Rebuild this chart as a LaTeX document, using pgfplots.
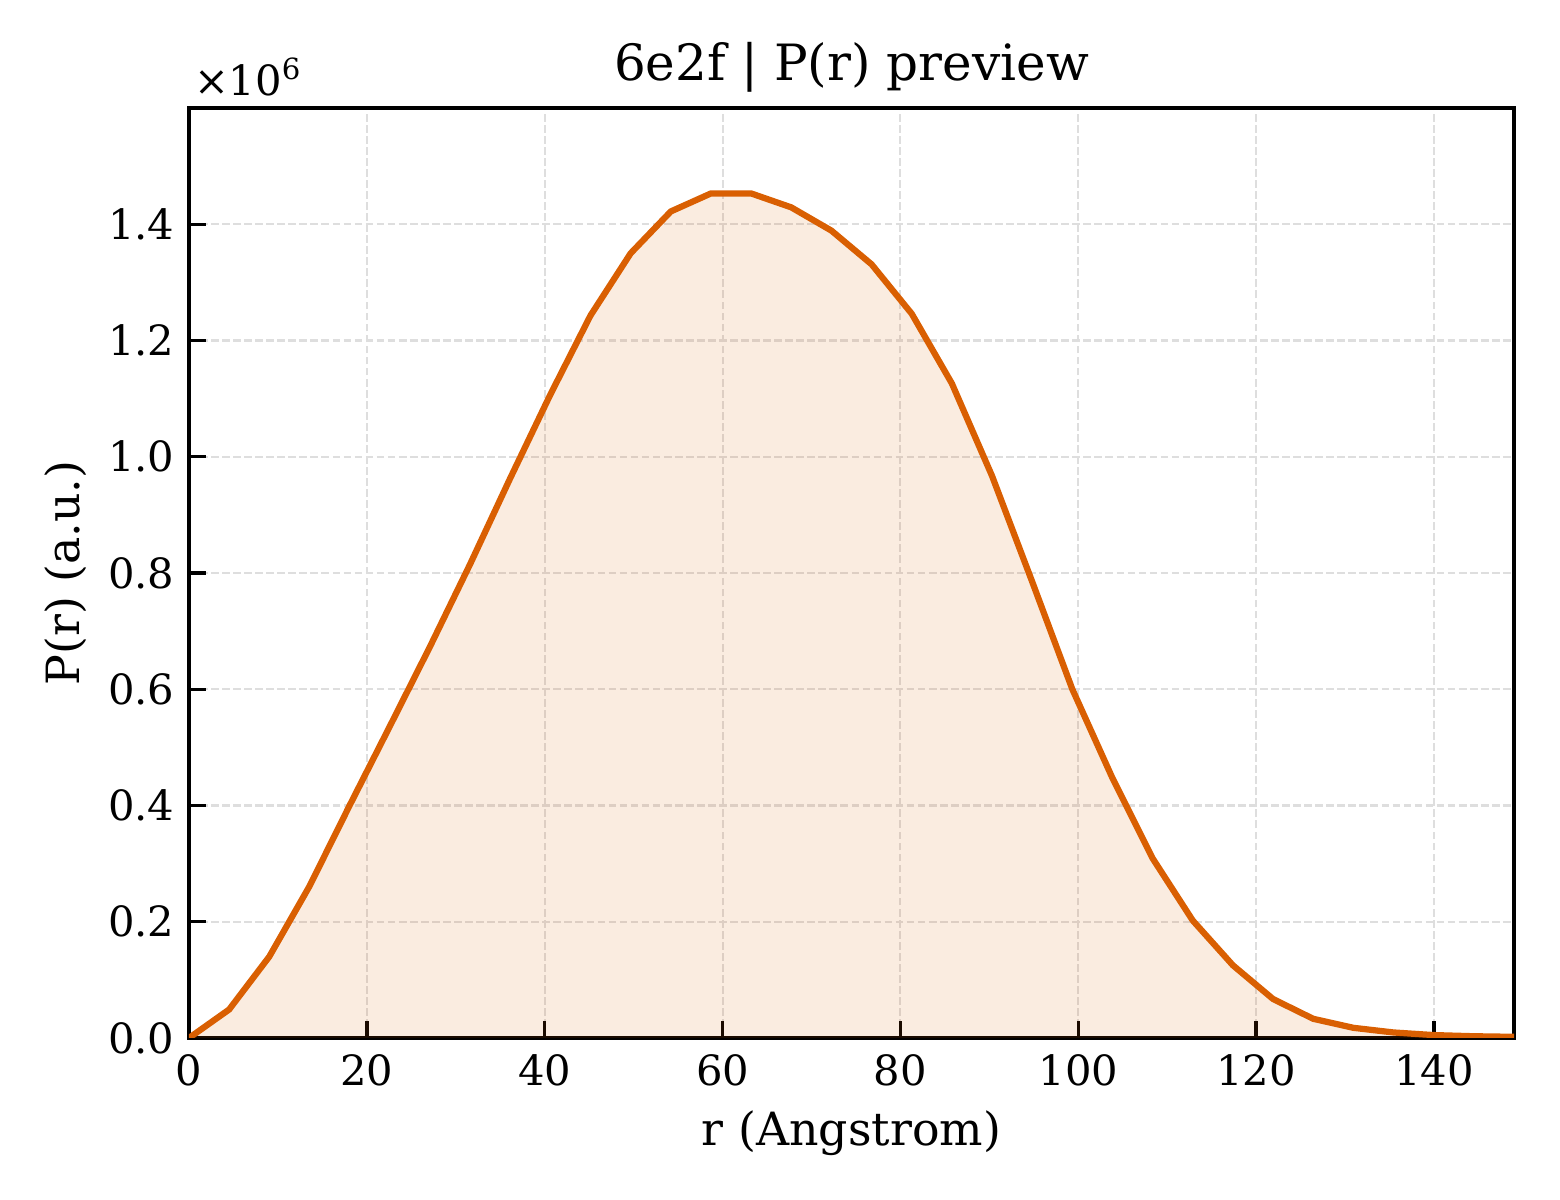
\documentclass[border=0pt]{standalone}
\usepackage{pgfplots}
\pgfplotsset{compat=1.18}
\usepackage{pgfplotstable}
\usepackage{fontspec}
\setmainfont{DejaVu Serif}
\definecolor{lineor}{HTML}{D95F02}

\pgfplotstableread{
r P
0.000 0.000
4.515 0.049
9.030 0.140
13.545 0.261
18.061 0.400
22.576 0.536
27.091 0.673
31.606 0.815
36.121 0.963
40.636 1.107
45.152 1.243
49.667 1.350
54.182 1.422
58.697 1.453
63.212 1.453
67.727 1.429
72.242 1.389
76.758 1.331
81.273 1.246
85.788 1.126
90.303 0.967
94.818 0.785
99.333 0.600
103.848 0.447
108.364 0.309
112.879 0.202
117.394 0.125
121.909 0.067
126.424 0.033
130.939 0.0175
135.455 0.0095
139.970 0.005
144.485 0.003
149.000 0.002
}\prdata

\begin{document}
\begin{tikzpicture}
\begin{axis}[
  scale only axis,
  width=318pt, height=223.2pt,
  xmin=0, xmax=149, ymin=0, ymax=1.6,
  xtick={0,20,40,60,80,100,120,140},
  ytick={0,0.2,0.4,0.6,0.8,1.0,1.2,1.4},
  scaled y ticks=false,
  yticklabel style={/pgf/number format/.cd, fixed, fixed zerofill, precision=1},
  /pgf/number format/assume math mode=true,
  tick label style={font=\fontsize{10}{12}\selectfont},
  xticklabel style={anchor=base, yshift=-11.5pt, inner sep=0pt},
  tick align=inside,
  tick pos=left,
  major tick length=4pt,
  tick style={line width=0.8pt, black},
  axis line style={line width=1pt},
  grid=major,
  major grid style={dash pattern=on 1.85pt off 0.8pt, line width=0.5pt, color=black!13},
  every axis title shift=0pt,
  title={6e2f | P(r) preview},
  title style={at={(0.5,1)}, anchor=base, yshift=6.6pt, inner sep=0pt, font=\fontsize{12}{14}\selectfont},
  xlabel={r (Angstrom)},
  xlabel style={at={(0.5,0)}, anchor=base, yshift=-25.7pt, inner sep=0pt, font=\fontsize{11}{13}\selectfont},
  ylabel={P(r) (a.u.)},
  ylabel style={at={(0,0.5)}, rotate=0, anchor=base, yshift=26.2pt, inner sep=0pt, font=\fontsize{11}{13}\selectfont},
]
\addplot[draw=none, fill=lineor, fill opacity=0.12] table[x=r, y=P] {\prdata} \closedcycle;
\addplot[lineor, line width=1.5pt, line join=miter] table[x=r, y=P] {\prdata};
\end{axis}
\node[anchor=base west, inner sep=0pt, font=\fontsize{10}{12}\selectfont] at ([xshift=1pt, yshift=3.1pt]current axis.north west) {×10\textsuperscript{6}};
\pgfresetboundingbox
\path[use as bounding box] ([xshift=-45.36pt, yshift=-38.88pt]current axis.south west) rectangle ([xshift=11.04pt, yshift=25.92pt]current axis.north east);
\end{tikzpicture}
\end{document}
